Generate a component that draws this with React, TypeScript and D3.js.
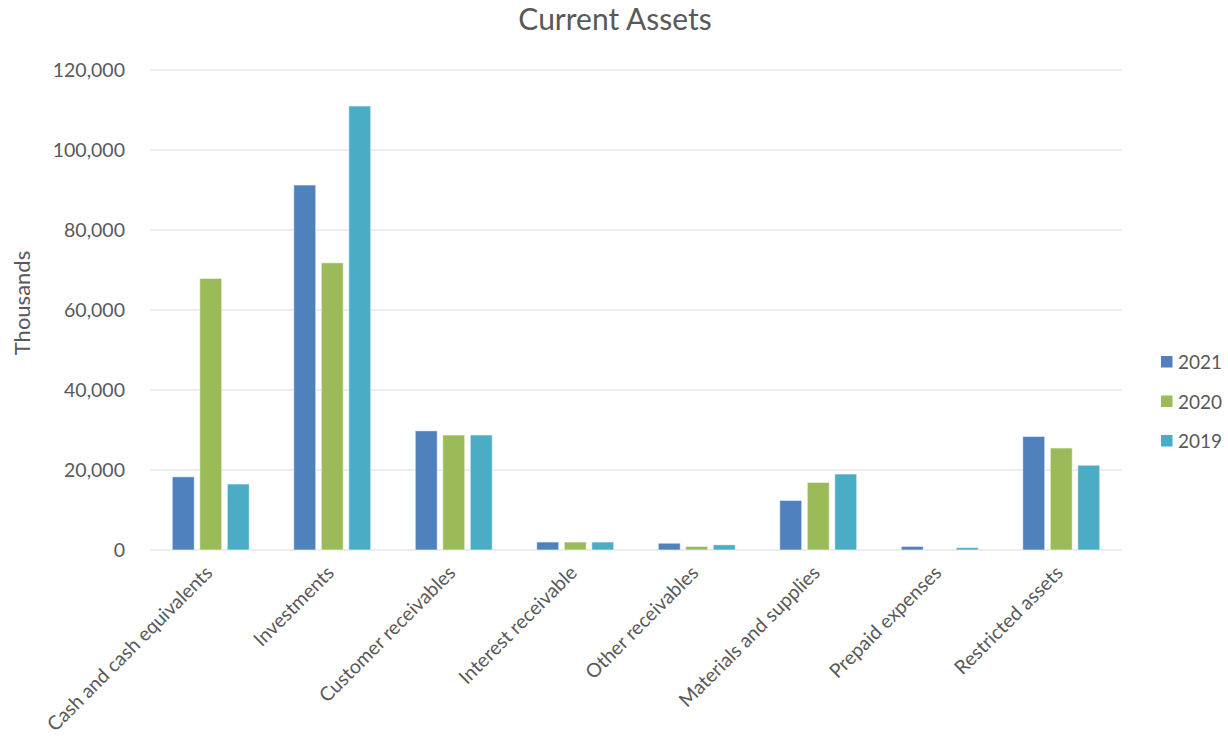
import React from "react";
import * as d3 from "d3";

const categories = [
  "Cash and cash equivalents",
  "Investments",
  "Customer receivables",
  "Interest receivable",
  "Other receivables",
  "Materials and supplies",
  "Prepaid expenses",
  "Restricted assets",
];
const seriesNames = ["2021", "2020", "2019"];
const values2021 = [18300, 91250, 29800, 2000, 1700, 12400, 900, 28400];
const values2020 = [67900, 71800, 28750, 2000, 900, 16900, 0, 25500];
const values2019 = [16500, 111000, 28750, 2000, 1300, 19000, 600, 21200];
const seriesValues = [values2021, values2020, values2019];
const colors = ["#4F81BD", "#9BBB59", "#4BACC6"];
const yTicks = [0, 20000, 40000, 60000, 80000, 100000, 120000];

const W = 1228;
const H = 740;
const FONT = "Lato, 'Open Sans', sans-serif";
const TEXT = "#595959";

export default function App() {
  const x = d3.scaleBand<string>().domain(categories).range([150, 1122]).padding(0);
  const inner = d3.scaleBand<string>().domain(seriesNames).range([0, 77]).paddingInner(0.2).paddingOuter(0);
  const y = d3.scaleLinear().domain([0, 120000]).range([550, 70]);
  const fmt = d3.format(",");

  return (
    <svg
      width={W}
      height={H}
      style={{ position: "absolute", left: 0, top: 0, background: "#fff" }}
      fontFamily={FONT}
    >
      <rect x={0} y={0} width={W} height={H} fill="#fff" />
      <text x={615} y={30} textAnchor="middle" fontSize={30} fill={TEXT}>
        Current Assets
      </text>
      {yTicks.map((t) => (
        <g key={t}>
          <line x1={150} x2={1122} y1={y(t)} y2={y(t)} stroke="#D9D9D9" strokeWidth={1.2} />
          <text x={125} y={y(t) + 7} textAnchor="end" fontSize={19.5} fill={TEXT}>
            {fmt(t)}
          </text>
        </g>
      ))}
      <text
        transform={`translate(30,303) rotate(-90)`}
        textAnchor="middle"
        fontSize={22}
        fill={TEXT}
      >
        Thousands
      </text>
      {categories.map((c, i) => {
        const cx = (x(c) as number) + x.bandwidth() / 2;
        const left = cx - 38.5;
        return (
          <g key={c}>
            {seriesNames.map((s, j) => {
              const v = seriesValues[j][i];
              if (v <= 0) return null;
              const bx = left + (inner(s) as number);
              return (
                <rect
                  key={s}
                  x={bx}
                  y={y(v)}
                  width={inner.bandwidth()}
                  height={y(0) - y(v)}
                  fill={colors[j]}
                  stroke="#ffffff"
                  strokeOpacity={0.6}
                  strokeWidth={1}
                />
              );
            })}
            <text
              transform={`translate(${cx + 3},574) rotate(-45)`}
              textAnchor="end"
              fontSize={19.5}
              fill={TEXT}
            >
              {c}
            </text>
          </g>
        );
      })}
      {seriesNames.map((s, j) => (
        <g key={s} transform={`translate(1161,${362 + j * 39.5})`}>
          <rect x={0} y={-6} width={11.5} height={11.5} fill={colors[j]} />
          <text x={17} y={7} fontSize={19} fill={TEXT}>
            {s}
          </text>
        </g>
      ))}
    </svg>
  );
}
